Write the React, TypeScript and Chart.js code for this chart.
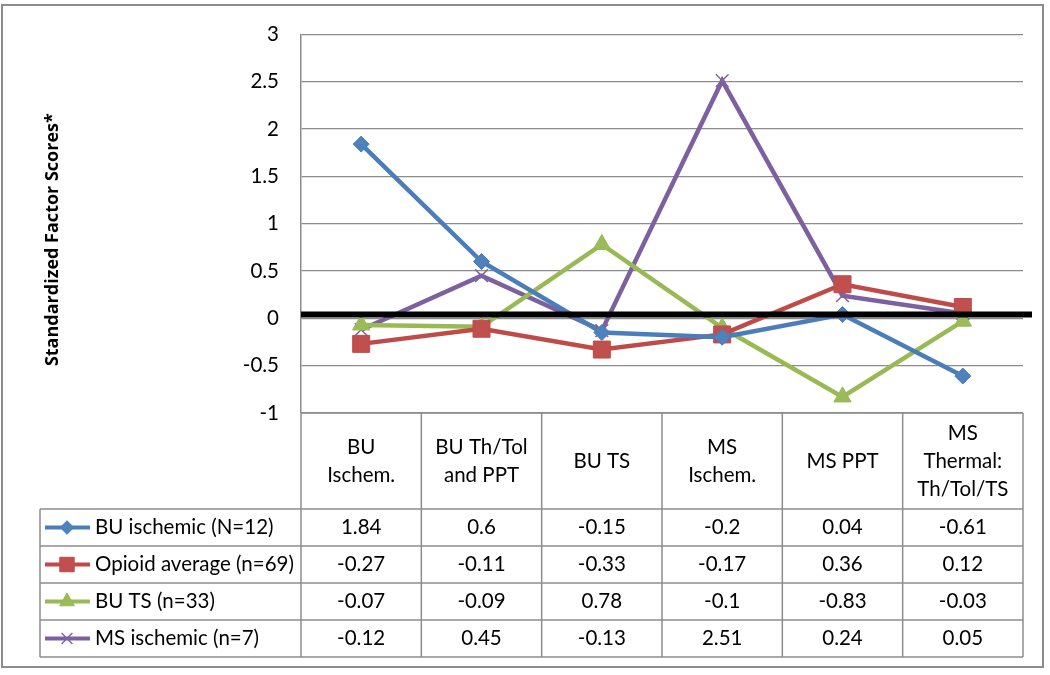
import React, { useEffect, useRef } from "react";
import { Chart, registerables } from "chart.js";

Chart.register(...registerables);

const categories: string[][] = [
  ["BU", "Ischem."],
  ["BU Th/Tol", "and PPT"],
  ["BU TS"],
  ["MS", "Ischem."],
  ["MS PPT"],
  ["MS", "Thermal:", "Th/Tol/TS"],
];

const seriesNames = [
  "BU ischemic (N=12)",
  "Opioid average (n=69)",
  "BU TS (n=33)",
  "MS ischemic (n=7)",
];

const buIschemic = [1.84, 0.6, -0.15, -0.2, 0.04, -0.61];
const opioidAverage = [-0.27, -0.11, -0.33, -0.17, 0.36, 0.12];
const buTS = [-0.07, -0.09, 0.78, -0.1, -0.83, -0.03];
const msIschemic = [-0.12, 0.45, -0.13, 2.51, 0.24, 0.05];

const baselineValue = 0.04;

const yTitle = "Standardized Factor Scores*";

const colors = ["#4A7EBB", "#BE4B48", "#98B954", "#7D60A0"];
const markerFill = ["#4F81BD", "#C0504D", "#9BBB59", "#8064A2"];
const pointStyles = ["rectRot", "rect", "triangle", "crossRot"];
const pointRadii = [8, 12, 10, 9];

const FONT = "Lato, 'Open Sans', sans-serif";
const FS = 20.5;

function drawMarker(ctx: CanvasRenderingContext2D, style: string, r: number, x: number, y: number, fill: string, stroke: string) {
  ctx.save();
  ctx.fillStyle = fill;
  ctx.strokeStyle = stroke;
  ctx.lineWidth = 1;
  ctx.beginPath();
  if (style === "rectRot") {
    ctx.moveTo(x, y - r);
    ctx.lineTo(x + r, y);
    ctx.lineTo(x, y + r);
    ctx.lineTo(x - r, y);
    ctx.closePath();
    ctx.fill();
    ctx.stroke();
  } else if (style === "rect") {
    const s = r * Math.SQRT1_2;
    ctx.rect(x - s, y - s, 2 * s, 2 * s);
    ctx.fill();
    ctx.stroke();
  } else if (style === "triangle") {
    const h = r;
    ctx.moveTo(x, y - h);
    ctx.lineTo(x + h * 0.866, y + h * 0.5);
    ctx.lineTo(x - h * 0.866, y + h * 0.5);
    ctx.closePath();
    ctx.fill();
    ctx.stroke();
  } else {
    const d = r * Math.SQRT1_2;
    ctx.lineWidth = 1.5;
    ctx.strokeStyle = fill;
    ctx.moveTo(x - d, y - d);
    ctx.lineTo(x + d, y + d);
    ctx.moveTo(x + d, y - d);
    ctx.lineTo(x - d, y + d);
    ctx.stroke();
  }
  ctx.restore();
}

export default function App() {
  const ref = useRef<HTMLCanvasElement | null>(null);

  useEffect(() => {
    document.body.style.margin = "0";
    const canvas = ref.current!;
    const seriesValues = [buIschemic, opioidAverage, buTS, msIschemic];

    const tablePlugin = {
      id: "tablePlugin",
      afterDatasetsDraw(chart: any) {
        const ctx = chart.ctx;
        const area = chart.chartArea;
        const y = chart.scales.y;
        const yb = y.getPixelForValue(baselineValue);
        ctx.save();
        ctx.strokeStyle = "#000";
        ctx.lineWidth = 6;
        ctx.beginPath();
        ctx.moveTo(area.left, yb);
        ctx.lineTo(area.right + 9, yb);
        ctx.stroke();
        ctx.restore();
      },
      afterDraw(chart: any) {
        const ctx = chart.ctx;
        const area = chart.chartArea;
        const x = chart.scales.x;
        const n = categories.length;
        const colW = (area.right - area.left) / n;
        const headTop = area.bottom;
        const headBottom = headTop + 96;
        const rowH = 37;
        const tableLeft = 40;
        const tableBottom = headBottom + rowH * seriesNames.length;

        ctx.save();
        ctx.strokeStyle = "#8c8c8c";
        ctx.lineWidth = 2;
        ctx.strokeRect(2, 5, 1041, 662);

        ctx.lineWidth = 1.5;
        for (let i = 0; i <= n; i++) {
          const xx = area.left + i * colW;
          ctx.beginPath();
          ctx.moveTo(xx, headTop);
          ctx.lineTo(xx, tableBottom);
          ctx.stroke();
        }
        ctx.beginPath();
        ctx.moveTo(tableLeft, headBottom);
        ctx.lineTo(tableLeft, tableBottom);
        ctx.stroke();
        ctx.beginPath();
        ctx.moveTo(area.left, headTop);
        ctx.lineTo(area.right, headTop);
        ctx.stroke();
        for (let r = 0; r <= seriesNames.length; r++) {
          const yy = headBottom + r * rowH;
          ctx.beginPath();
          ctx.moveTo(tableLeft, yy);
          ctx.lineTo(area.right, yy);
          ctx.stroke();
        }

        ctx.fillStyle = "#000";
        ctx.font = `${FS}px ${FONT}`;
        ctx.textAlign = "center";
        ctx.textBaseline = "middle";
        const headMid = (headTop + headBottom) / 2;
        const lh = 28;
        categories.forEach((lines, i) => {
          const cx = x.getPixelForValue(i);
          const start = headMid - ((lines.length - 1) * lh) / 2;
          lines.forEach((ln, k) => ctx.fillText(ln, cx, start + k * lh));
        });
        seriesNames.forEach((name, r) => {
          const cy = headBottom + r * rowH + rowH / 2;
          ctx.save();
          ctx.strokeStyle = colors[r];
          ctx.lineWidth = 4;
          ctx.beginPath();
          ctx.moveTo(45, cy);
          ctx.lineTo(90, cy);
          ctx.stroke();
          ctx.restore();
          drawMarker(ctx, pointStyles[r], pointRadii[r] * 0.85, 67, cy, markerFill[r], colors[r]);

          ctx.fillStyle = "#000";
          ctx.textAlign = "left";
          ctx.fillText(name, 95, cy);
          ctx.textAlign = "center";
          seriesValues[r].forEach((v, i) => {
            ctx.fillText(String(v), x.getPixelForValue(i), cy);
          });
        });

        ctx.save();
        ctx.translate(53, (area.top + area.bottom) / 2 + 16);
        ctx.rotate(-Math.PI / 2);
        ctx.font = `bold 18px 'Open Sans', 'Noto Sans', sans-serif`;
        ctx.textAlign = "center";
        ctx.textBaseline = "middle";
        ctx.fillText(yTitle, 0, 0);
        ctx.restore();

        ctx.restore();
      },
    };

    const chart = new Chart(canvas, {
      type: "line",
      data: {
        labels: categories.map((c) => c.join(" ")),
        datasets: seriesNames.map((name, i) => ({
          label: name,
          data: seriesValues[i],
          borderColor: colors[i],
          backgroundColor: markerFill[i],
          borderWidth: 4.5,
          pointStyle: pointStyles[i] as any,
          pointRadius: pointRadii[i],
          pointBorderColor: pointStyles[i] === "crossRot" ? markerFill[i] : colors[i],
          pointBackgroundColor: markerFill[i],
          pointBorderWidth: pointStyles[i] === "crossRot" ? 1.5 : 1,
          tension: 0,
        })),
      },
      options: {
        responsive: false,
        animation: false,
        layout: { padding: { left: 0, top: 26, right: 27, bottom: 262 } },
        plugins: { legend: { display: false }, tooltip: { enabled: false } },
        scales: {
          x: { display: false, offset: true },
          y: {
            min: -1,
            max: 3,
            afterFit: (s: any) => {
              s.width = 301;
            },
            ticks: {
              stepSize: 0.5,
              padding: 22,
              color: "#000",
              font: { family: FONT, size: FS },
              callback: (v: any) => String(v),
            },
            grid: { color: "#8c8c8c", lineWidth: 1.2, drawTicks: false },
            border: { color: "#8c8c8c", width: 1.5 },
          },
        },
      },
      plugins: [tablePlugin],
    });
    return () => chart.destroy();
  }, []);

  return (
    <div style={{ width: 1050, height: 675, background: "#fff" }}>
      <canvas ref={ref} width={1050} height={675} style={{ width: 1050, height: 675, display: "block" }} />
    </div>
  );
}
